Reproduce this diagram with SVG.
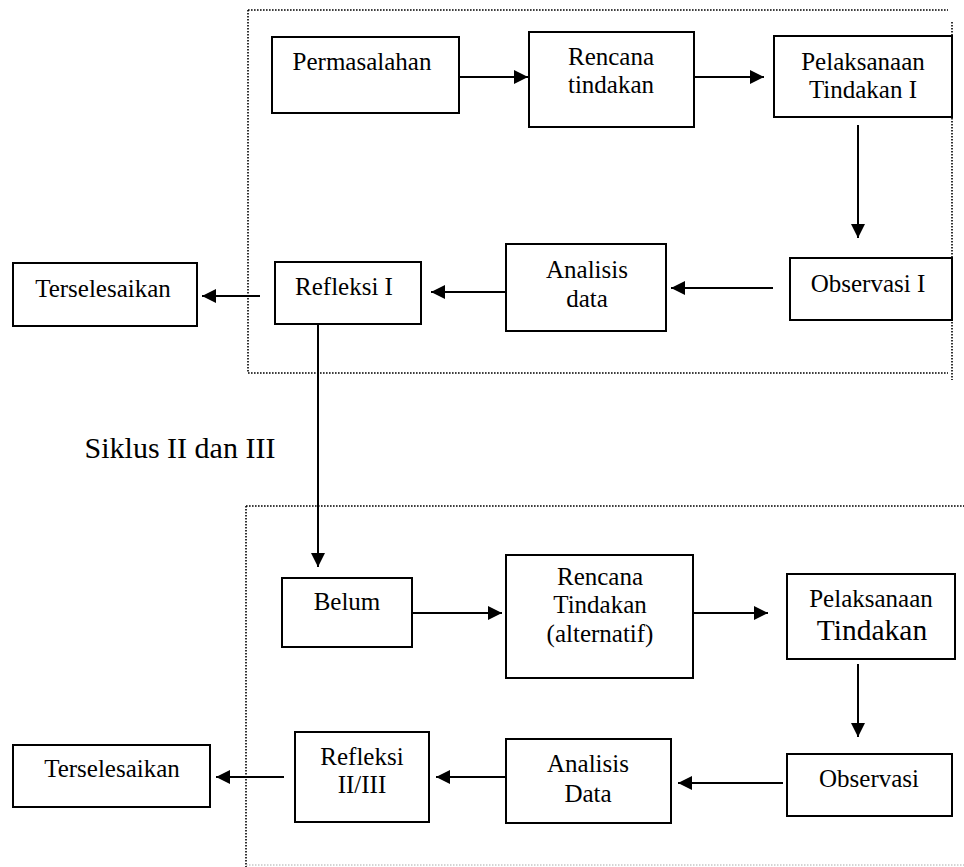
<svg xmlns="http://www.w3.org/2000/svg" width="964" height="867" viewBox="0 0 964 867">
<style>
.bg{fill:#fff}
.box{fill:#fff;stroke:#000;stroke-width:2}
.t{font-family:"Liberation Serif","Times New Roman",serif;font-size:25px;fill:#000;text-anchor:middle}
.dot{stroke:#000;stroke-width:1.6;stroke-dasharray:1.6 1.4;fill:none}
.dotl{stroke:#aaa;stroke-width:1.2;stroke-dasharray:1.5 1.5;fill:none}
.ln{stroke:#000;stroke-width:2;fill:none;marker-end:url(#ah)}
</style>
<defs>
<marker id="ah" markerUnits="userSpaceOnUse" markerWidth="14" markerHeight="14" refX="14" refY="7" orient="auto">
<path d="M0,0 L14,7 L0,14 z" fill="#000"/>
</marker>
</defs>
<rect class="bg" x="0" y="0" width="964" height="867"/>
<g id="frames">
<line class="dot" x1="248" y1="10" x2="948" y2="10"/>
<line class="dot" x1="248" y1="10" x2="248" y2="373"/>
<line class="dot" x1="248" y1="373" x2="948" y2="373"/>
<line class="dot" x1="952" y1="22" x2="952" y2="380"/>
<line class="dot" x1="246" y1="506" x2="964" y2="506"/>
<line class="dot" x1="246" y1="506" x2="246" y2="867"/>
<line class="dotl" x1="246" y1="865" x2="964" y2="865"/>
</g>
<text class="t" x="180" y="458" style="font-size:30px">Siklus II dan III</text>
<g id="connectors">
<line class="ln" x1="459" y1="77" x2="528" y2="77"/>
<line class="ln" x1="694" y1="77" x2="764" y2="77"/>
<line class="ln" x1="858" y1="125" x2="858" y2="238"/>
<line class="ln" x1="773" y1="288" x2="671" y2="288"/>
<line class="ln" x1="506" y1="292" x2="431" y2="292"/>
<line class="ln" x1="260" y1="296" x2="202" y2="296"/>
<line class="ln" x1="318" y1="324" x2="318" y2="567"/>
<line class="ln" x1="412" y1="613" x2="502" y2="613"/>
<line class="ln" x1="693" y1="613" x2="768" y2="613"/>
<line class="ln" x1="858" y1="664" x2="858" y2="737"/>
<line class="ln" x1="783" y1="783" x2="678" y2="783"/>
<line class="ln" x1="506" y1="777" x2="436" y2="777"/>
<line class="ln" x1="284" y1="777" x2="216" y2="777"/>
</g>
<g id="permasalahan">
<rect class="box" x="272" y="37" width="187" height="76"/>
<text class="t" x="362" y="70">Permasalahan</text>
</g>
<g id="rencana1">
<rect class="box" x="529" y="32" width="165" height="95"/>
<text class="t" x="611" y="65">Rencana</text>
<text class="t" x="611" y="93">tindakan</text>
</g>
<g id="pelaksanaan1">
<rect class="box" x="774" y="36" width="178" height="81"/>
<text class="t" x="863" y="70">Pelaksanaan</text>
<text class="t" x="863" y="98">Tindakan I</text>
</g>
<g id="observasi1">
<rect class="box" x="790" y="258" width="162" height="62"/>
<text class="t" x="868" y="292">Observasi I</text>
</g>
<g id="analisis1">
<rect class="box" x="506" y="244" width="160" height="87"/>
<text class="t" x="587" y="278">Analisis</text>
<text class="t" x="587" y="307">data</text>
</g>
<g id="refleksi1">
<rect class="box" x="275" y="262" width="146" height="62"/>
<text class="t" x="344" y="295">Refleksi I</text>
</g>
<g id="terselesaikan1">
<rect class="box" x="13" y="263" width="184" height="63"/>
<text class="t" x="103" y="297">Terselesaikan</text>
</g>
<g id="belum">
<rect class="box" x="282" y="578" width="130" height="69"/>
<text class="t" x="347" y="610">Belum</text>
</g>
<g id="rencana2">
<rect class="box" x="506" y="555" width="187" height="123"/>
<text class="t" x="600" y="585">Rencana</text>
<text class="t" x="600" y="613">Tindakan</text>
<text class="t" x="600" y="642">(alternatif)</text>
</g>
<g id="pelaksanaan2">
<rect class="box" x="787" y="574" width="168" height="85"/>
<text class="t" x="871" y="607">Pelaksanaan</text>
<text class="t" x="872" y="640" style="font-size:29.5px">Tindakan</text>
</g>
<g id="observasi2">
<rect class="box" x="787" y="754" width="165" height="62"/>
<text class="t" x="869" y="787">Observasi</text>
</g>
<g id="analisis2">
<rect class="box" x="506" y="739" width="165" height="84"/>
<text class="t" x="588" y="772">Analisis</text>
<text class="t" x="588" y="802">Data</text>
</g>
<g id="refleksi2">
<rect class="box" x="295" y="732" width="134" height="90"/>
<text class="t" x="362" y="765">Refleksi</text>
<text class="t" x="362" y="793">II/III</text>
</g>
<g id="terselesaikan2">
<rect class="box" x="13" y="745" width="197" height="62"/>
<text class="t" x="112" y="777">Terselesaikan</text>
</g>
</svg>
